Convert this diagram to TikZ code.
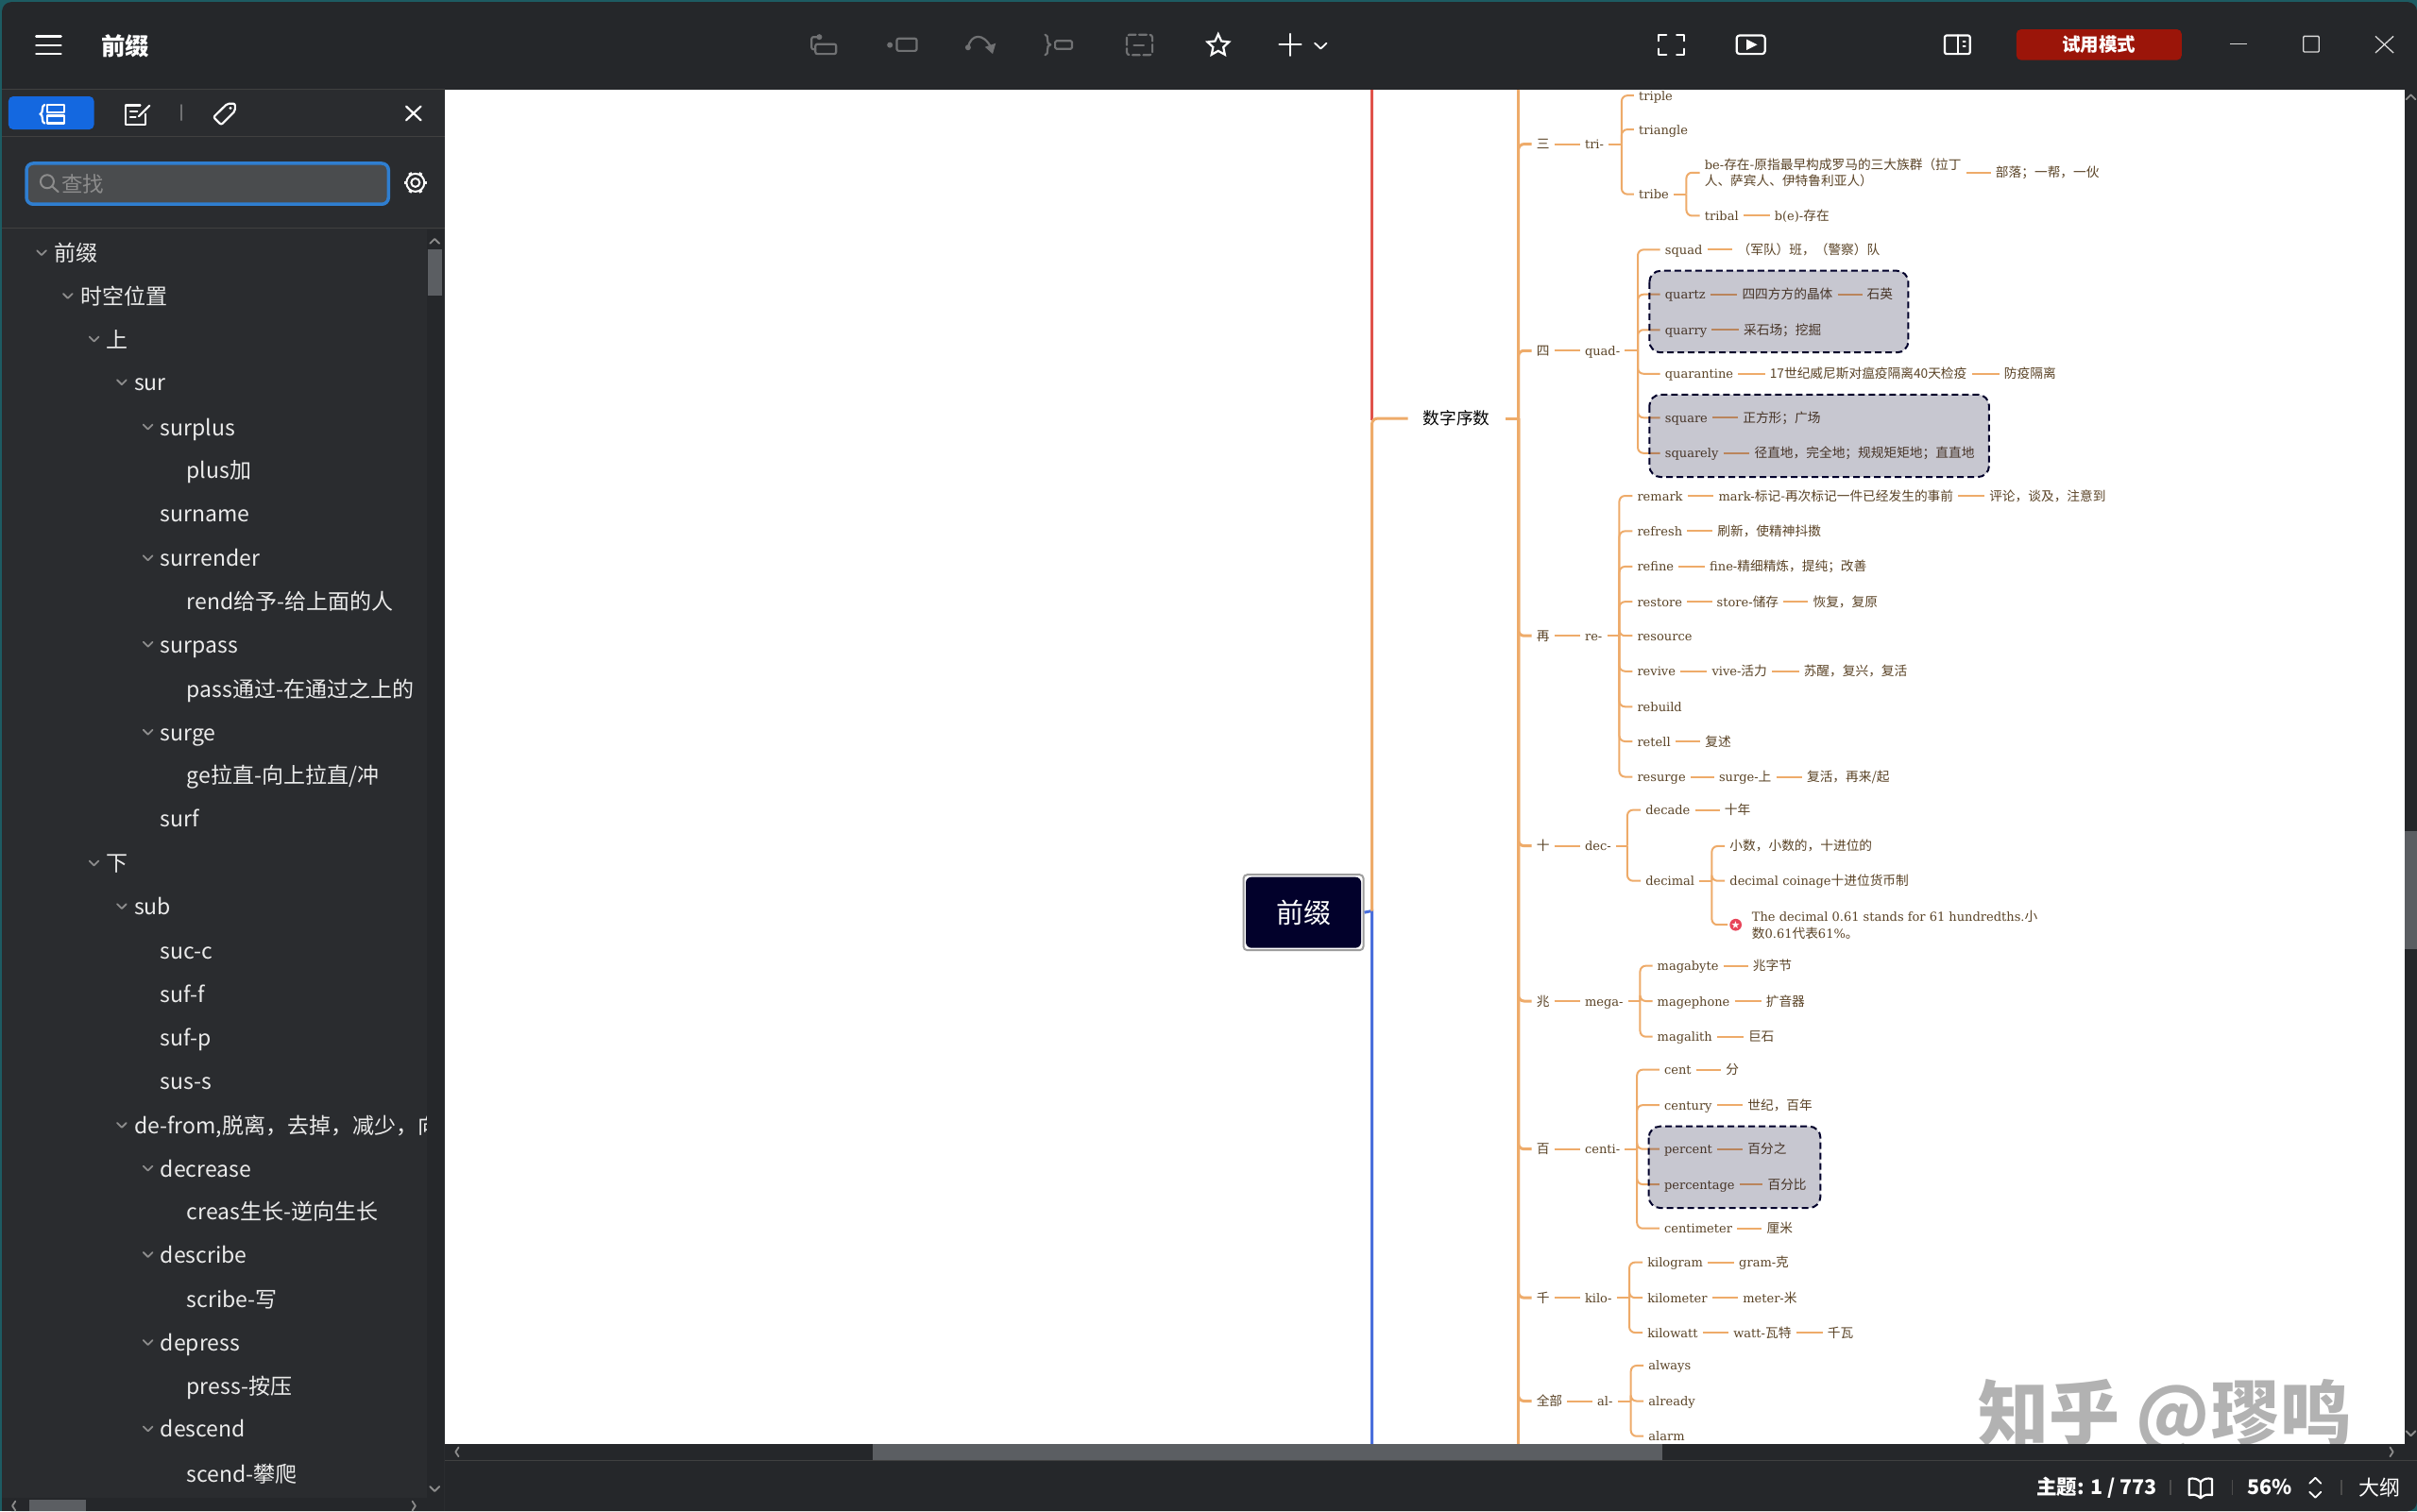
\documentclass[tikz,border=0pt]{standalone}
\usepackage{fontspec}
\usetikzlibrary{shapes.geometric}
\newfontfamily\maplatin{DejaVu Serif}
\newfontfamily\cjkfont{Noto Sans CJK SC}
\newfontfamily\symfont{DejaVu Sans}
\newcommand{\zh}[1]{{\cjkfont\fontsize{13.7}{17.7}\selectfont #1}}
\definecolor{windowdark}{HTML}{25272A}
\definecolor{sidedark}{HTML}{2A2C2F}
\definecolor{edgeteal}{HTML}{1D5C63}
\definecolor{thumbgray}{HTML}{5B5E62}
\definecolor{icongray}{HTML}{707173}
\definecolor{leaforange}{HTML}{EEAB6A}
\definecolor{mapbrown}{HTML}{5A4326}
\definecolor{rootnavy}{HTML}{02012B}
\definecolor{trialred}{HTML}{9B1509}
\definecolor{searchblue}{HTML}{2F7ED0}
\definecolor{tabblue}{HTML}{1468E0}
\definecolor{lineblue}{HTML}{4A6FDC}
\definecolor{linered}{HTML}{E0524A}
\definecolor{starred}{HTML}{E8455A}
\tikzset{
	mapbase/.style={anchor=west,inner xsep=5pt,inner ysep=0pt,text=mapbrown,font=\maplatin\fontsize{13}{17.7}\selectfont},
	mapitem/.style={mapbase,text height=11.5pt,text depth=1.5pt},
	mapnote/.style={mapbase,align=left},
	leafline/.style={draw=leaforange,line width=2pt,rounded corners=6pt},
	numline/.style={draw=leaforange,line width=3pt,rounded corners=6pt},
	groupbox/.style={draw=rootnavy,fill=rootnavy,fill opacity=0.22,line width=2pt,dash pattern=on 7pt off 4pt,rounded corners=12pt},
	sideitem/.style={anchor=west,inner sep=0pt,text=white!92!black,text height=20.5pt,text depth=2.5pt,font=\cjkfont\fontsize{23}{26}\selectfont},
	chev/.style={draw=#1,line width=1.8pt,line cap=round,line join=round},
	chev/.default=white!55!black,
	iconw/.style={draw=white,line width=2.2pt,line cap=round,line join=round},
	icong/.style={draw=icongray,line width=2.2pt,line cap=round,line join=round}
}
\begin{document}
\begin{tikzpicture}[x=1.632pt,y=-1.632pt]
	\useasboundingbox (0,0) rectangle (1568,980.4);
	% window
	\fill[edgeteal] (0,0) rectangle (1568,980.4);
	\fill[windowdark,rounded corners=10pt] (1.3,1.3) rectangle (1568,980.4);
	\fill[sidedark] (1.3,58) rectangle (288.4,980.4);
	\fill[white] (288.4,58) rectangle (1560,937);

	\begin{scope}
		\clip (288.4,58) rectangle (1560,937);
		% watermark
		\node[anchor=west,inner sep=0pt,text=black!30,font=\cjkfont\bfseries\fontsize{75}{75}\selectfont] (wmark) at (1283,919) {知乎 @璆鸣};

		% main lines
		\coordinate (redtop) at (890,58);
		\coordinate (redend) at (890,272.5);
		\coordinate (rootbus) at (890,591);
		\coordinate (bluebot) at (890,937);
		\coordinate (numtop) at (985,58);
		\coordinate (numbus) at (985,271.5);
		\coordinate (numbot) at (985,937);
		\node[draw=black!38,line width=2pt,rounded corners=4pt,minimum width=127pt,minimum height=80pt,inner sep=0pt] (rootframe) at (845.6,592) {};
		\node[fill=rootnavy,text=white,rounded corners=6pt,minimum width=122pt,minimum height=75pt,inner sep=0pt,font=\cjkfont\fontsize{29}{32}\selectfont] (root) at (845.6,592) {前缀};
		\node[inner xsep=16pt,inner ysep=2pt,text=black,font=\cjkfont\fontsize{17.7}{20}\selectfont] (digit) at (945,271.5) {数字序数};
		\draw[draw=linered,line width=3pt] (redtop) -- (redend);
		\draw[draw=lineblue,line width=3pt] (rootframe.east) -- (rootbus) -- (bluebot);
		\draw[numline] (rootbus) |- (digit.west);
		\draw[numline] (digit.east) -- (numbus);
		\draw[numline] (numtop) -- (numbot);

		% tri-
		\node[mapitem] (three) at (993.6,93.5) {\zh{三}};
		\node[mapitem] (tri) at (1025,93.5) {tri-};
		\coordinate (tribus) at (1052,93.5);
		\node[mapitem] (triple) at (1060,62) {triple};
		\node[mapitem] (triangle) at (1060,84) {triangle};
		\node[mapitem] (tribe) at (1060,126) {tribe};
		\coordinate (tribebus) at (1094,126);
		\node[mapnote] (tribeorigin) at (1102.7,112) {be-\zh{存在-原指最早构成罗马的三大族群（拉丁}\\\zh{人、萨宾人、伊特鲁利亚人）}};
		\node[mapitem] (tribemean) at (1291.5,112) {\zh{部落；一帮，一伙}};
		\node[mapitem] (tribal) at (1102.7,140) {tribal};
		\node[mapitem] (tribalroot) at (1148,140) {b(e)-\zh{存在}};
		\draw[numline] (numbus) |- (three.west);
		\draw[leafline] (three.east) -- (tri.west);
		\draw[leafline] (tri.east) -- (tribus);
		\draw[leafline] (tribus) |- (triple.west);
		\draw[leafline] (tribus) |- (triangle.west);
		\draw[leafline] (tribus) |- (tribe.west);
		\draw[leafline] (tribe.east) -- (tribebus);
		\draw[leafline] (tribebus) |- (tribeorigin.west);
		\draw[leafline] (tribebus) |- (tribal.west);
		\draw[leafline] (tribeorigin.east) -- (tribemean.west);
		\draw[leafline] (tribal.east) -- (tribalroot.west);

		% quad-
		\node[mapitem] (four) at (993.6,227.5) {\zh{四}};
		\node[mapitem] (quad) at (1025,227.5) {quad-};
		\coordinate (quadbus) at (1062.5,227.5);
		\node[mapitem] (squad) at (1077,162) {squad};
		\node[mapitem] (squadmean) at (1124,162) {\zh{（军队）班，（警察）队}};
		\node[mapitem] (quartz) at (1077,191) {quartz};
		\node[mapitem] (quartzorigin) at (1127,191) {\zh{四四方方的晶体}};
		\node[mapitem] (quartzmean) at (1208,191) {\zh{石英}};
		\node[mapitem] (quarry) at (1077,214) {quarry};
		\node[mapitem] (quarrymean) at (1128,214) {\zh{采石场；挖掘}};
		\node[mapitem] (quarantine) at (1077,242.5) {quarantine};
		\node[mapitem] (quarantineorigin) at (1145,242.5) {\zh{17世纪威尼斯对瘟疫隔离40天检疫}};
		\node[mapitem] (quarantinemean) at (1297,242.5) {\zh{防疫隔离}};
		\node[mapitem] (square) at (1077,271) {square};
		\node[mapitem] (squaremean) at (1127.5,271) {\zh{正方形；广场}};
		\node[mapitem] (squarely) at (1077,294) {squarely};
		\node[mapitem] (squarelymean) at (1135,294) {\zh{径直地，完全地；规规矩矩地；直直地}};
		\draw[numline] (numbus) |- (four.west);
		\draw[leafline] (four.east) -- (quad.west);
		\draw[leafline] (quad.east) -- (quadbus);
		\draw[leafline] (quadbus) |- (squad.west);
		\draw[leafline] (quadbus) |- (quartz.west);
		\draw[leafline] (quadbus) |- (quarry.west);
		\draw[leafline] (quadbus) |- (quarantine.west);
		\draw[leafline] (quadbus) |- (square.west);
		\draw[leafline] (quadbus) |- (squarely.west);
		\draw[leafline] (squad.east) -- (squadmean.west);
		\draw[leafline] (quartz.east) -- (quartzorigin.west);
		\draw[leafline] (quartzorigin.east) -- (quartzmean.west);
		\draw[leafline] (quarry.east) -- (quarrymean.west);
		\draw[leafline] (quarantine.east) -- (quarantineorigin.west);
		\draw[leafline] (quarantineorigin.east) -- (quarantinemean.west);
		\draw[leafline] (square.east) -- (squaremean.west);
		\draw[leafline] (squarely.east) -- (squarelymean.west);

		% re-
		\node[mapitem] (again) at (993.6,412.5) {\zh{再}};
		\node[mapitem] (re) at (1025,412.5) {re-};
		\coordinate (rebus) at (1050.5,412.5);
		\node[mapitem] (remark) at (1059,321.7) {remark};
		\node[mapitem] (remarkorigin) at (1111.7,321.7) {mark-\zh{标记-再次标记一件已经发生的事前}};
		\node[mapitem] (remarkmean) at (1287.4,321.7) {\zh{评论，谈及，注意到}};
		\node[mapitem] (refresh) at (1059,344.6) {refresh};
		\node[mapitem] (refreshmean) at (1111,344.6) {\zh{刷新，使精神抖擞}};
		\node[mapitem] (refine) at (1059,367.6) {refine};
		\node[mapitem] (refineorigin) at (1106,367.6) {fine-\zh{精细精炼，提纯；改善}};
		\node[mapitem] (restore) at (1059,390.4) {restore};
		\node[mapitem] (restoreorigin) at (1110.6,390.4) {store-\zh{储存}};
		\node[mapitem] (restoremean) at (1173,390.4) {\zh{恢复，复原}};
		\node[mapitem] (resource) at (1059,412.5) {resource};
		\node[mapitem] (revive) at (1059,435.5) {revive};
		\node[mapitem] (reviveorigin) at (1107.4,435.5) {vive-\zh{活力}};
		\node[mapitem] (revivemean) at (1167,435.5) {\zh{苏醒，复兴，复活}};
		\node[mapitem] (rebuild) at (1059,458.5) {rebuild};
		\node[mapitem] (retell) at (1059,481) {retell};
		\node[mapitem] (retellmean) at (1103,481) {\zh{复述}};
		\node[mapitem] (resurge) at (1059,504) {resurge};
		\node[mapitem] (resurgeorigin) at (1112,504) {surge-\zh{上}};
		\node[mapitem] (resurgemean) at (1169,504) {\zh{复活，再来/起}};
		\draw[numline] (numbus) |- (again.west);
		\draw[leafline] (again.east) -- (re.west);
		\draw[leafline] (re.east) -- (rebus);
		\foreach \kid in {remark,refresh,refine,restore,resource,revive,rebuild,retell,resurge}
			\draw[leafline] (rebus) |- (\kid.west);
		\draw[leafline] (remark.east) -- (remarkorigin.west);
		\draw[leafline] (remarkorigin.east) -- (remarkmean.west);
		\draw[leafline] (refresh.east) -- (refreshmean.west);
		\draw[leafline] (refine.east) -- (refineorigin.west);
		\draw[leafline] (restore.east) -- (restoreorigin.west);
		\draw[leafline] (restoreorigin.east) -- (restoremean.west);
		\draw[leafline] (revive.east) -- (reviveorigin.west);
		\draw[leafline] (reviveorigin.east) -- (revivemean.west);
		\draw[leafline] (retell.east) -- (retellmean.west);
		\draw[leafline] (resurge.east) -- (resurgeorigin.west);
		\draw[leafline] (resurgeorigin.east) -- (resurgemean.west);

		% dec-
		\node[mapitem] (ten) at (993.6,548.8) {\zh{十}};
		\node[mapitem] (dec) at (1025,548.8) {dec-};
		\coordinate (decbus) at (1055.7,548.8);
		\node[mapitem] (decade) at (1064.4,525.5) {decade};
		\node[mapitem] (decademean) at (1115.6,525.5) {\zh{十年}};
		\node[mapitem] (decimal) at (1064.4,571.5) {decimal};
		\coordinate (decimalbus) at (1110.5,571.5);
		\node[mapitem] (decimalmean) at (1119,549) {\zh{小数，小数的，十进位的}};
		\node[mapitem] (decimalcoin) at (1119,571.5) {decimal coinage\zh{十进位货币制}};
		\node[circle,fill=starred,text=white,minimum size=12.5pt,inner sep=0pt,font=\symfont\fontsize{11}{11}\selectfont] (decstar) at (1126,600) {★};
		\node[mapnote] (decimalnote) at (1133.4,600) {The decimal 0.61 stands for 61 hundredths.\zh{小}\\\zh{数}0.61\zh{代表}61\%\zh{。}};
		\draw[numline] (numbus) |- (ten.west);
		\draw[leafline] (ten.east) -- (dec.west);
		\draw[leafline] (dec.east) -- (decbus);
		\draw[leafline] (decbus) |- (decade.west);
		\draw[leafline] (decbus) |- (decimal.west);
		\draw[leafline] (decade.east) -- (decademean.west);
		\draw[leafline] (decimal.east) -- (decimalbus);
		\draw[leafline] (decimalbus) |- (decimalmean.west);
		\draw[leafline] (decimalbus) |- (decimalcoin.west);
		\draw[leafline] (decimalbus) |- ([xshift=-2pt]decstar.west);

		% mega-
		\node[mapitem] (million) at (993.6,649.5) {\zh{兆}};
		\node[mapitem] (mega) at (1025,649.5) {mega-};
		\coordinate (megabus) at (1064,649.5);
		\node[mapitem] (magabyte) at (1072,626.6) {magabyte};
		\node[mapitem] (magabytemean) at (1134,626.6) {\zh{兆字节}};
		\node[mapitem] (magephone) at (1072,649.5) {magephone};
		\node[mapitem] (magephonemean) at (1142.5,649.5) {\zh{扩音器}};
		\node[mapitem] (magalith) at (1072,672.6) {magalith};
		\node[mapitem] (magalithmean) at (1131,672.6) {\zh{巨石}};
		\draw[numline] (numbus) |- (million.west);
		\draw[leafline] (million.east) -- (mega.west);
		\draw[leafline] (mega.east) -- (megabus);
		\draw[leafline] (megabus) |- (magabyte.west);
		\draw[leafline] (megabus) |- (magephone.west);
		\draw[leafline] (megabus) |- (magalith.west);
		\draw[leafline] (magabyte.east) -- (magabytemean.west);
		\draw[leafline] (magephone.east) -- (magephonemean.west);
		\draw[leafline] (magalith.east) -- (magalithmean.west);

		% centi-
		\node[mapitem] (hundred) at (993.6,745.5) {\zh{百}};
		\node[mapitem] (centi) at (1025,745.5) {centi-};
		\coordinate (centibus) at (1062,745.5);
		\node[mapitem] (cent) at (1076.5,694) {cent};
		\node[mapitem] (centmean) at (1116.5,694) {\zh{分}};
		\node[mapitem] (century) at (1076.5,717) {century};
		\node[mapitem] (centurymean) at (1130.6,717) {\zh{世纪，百年}};
		\node[mapitem] (percent) at (1076.5,745.5) {percent};
		\node[mapitem] (percentmean) at (1130.6,745.5) {\zh{百分之}};
		\node[mapitem] (percentage) at (1076.5,768.4) {percentage};
		\node[mapitem] (percentagemean) at (1143.6,768.4) {\zh{百分比}};
		\node[mapitem] (centimeter) at (1076.5,797) {centimeter};
		\node[mapitem] (centimetermean) at (1143,797) {\zh{厘米}};
		\draw[numline] (numbus) |- (hundred.west);
		\draw[leafline] (hundred.east) -- (centi.west);
		\draw[leafline] (centi.east) -- (centibus);
		\draw[leafline] (centibus) |- (cent.west);
		\draw[leafline] (centibus) |- (century.west);
		\draw[leafline] (centibus) |- (percent.west);
		\draw[leafline] (centibus) |- (percentage.west);
		\draw[leafline] (centibus) |- (centimeter.west);
		\draw[leafline] (cent.east) -- (centmean.west);
		\draw[leafline] (century.east) -- (centurymean.west);
		\draw[leafline] (percent.east) -- (percentmean.west);
		\draw[leafline] (percentage.east) -- (percentagemean.west);
		\draw[leafline] (centimeter.east) -- (centimetermean.west);

		% kilo-
		\node[mapitem] (thousand) at (993.6,842) {\zh{千}};
		\node[mapitem] (kilo) at (1025,842) {kilo-};
		\coordinate (kilobus) at (1057,842);
		\node[mapitem] (kilogram) at (1065.6,819) {kilogram};
		\node[mapitem] (kilogramorigin) at (1125,819) {gram-\zh{克}};
		\node[mapitem] (kilometer) at (1065.6,842) {kilometer};
		\node[mapitem] (kilometerorigin) at (1127.5,842) {meter-\zh{米}};
		\node[mapitem] (kilowatt) at (1065.6,864.6) {kilowatt};
		\node[mapitem] (kilowattorigin) at (1121.4,864.6) {watt-\zh{瓦特}};
		\node[mapitem] (kilowattmean) at (1182.4,864.6) {\zh{千瓦}};
		\draw[numline] (numbus) |- (thousand.west);
		\draw[leafline] (thousand.east) -- (kilo.west);
		\draw[leafline] (kilo.east) -- (kilobus);
		\draw[leafline] (kilobus) |- (kilogram.west);
		\draw[leafline] (kilobus) |- (kilometer.west);
		\draw[leafline] (kilobus) |- (kilowatt.west);
		\draw[leafline] (kilogram.east) -- (kilogramorigin.west);
		\draw[leafline] (kilometer.east) -- (kilometerorigin.west);
		\draw[leafline] (kilowatt.east) -- (kilowattorigin.west);
		\draw[leafline] (kilowattorigin.east) -- (kilowattmean.west);

		% al-
		\node[mapitem] (whole) at (993.6,909) {\zh{全部}};
		\node[mapitem] (al) at (1033,909) {al-};
		\coordinate (albus) at (1058,909);
		\node[mapitem] (always) at (1066.3,886) {always};
		\node[mapitem] (already) at (1066.3,909) {already};
		\node[mapitem] (alarm) at (1066.3,931.8) {alarm};
		\draw[numline] (numbus) |- (whole.west);
		\draw[leafline] (whole.east) -- (al.west);
		\draw[leafline] (al.east) -- (albus);
		\draw[leafline] (albus) |- (always.west);
		\draw[leafline] (albus) |- (already.west);
		\draw[leafline] (albus) |- (alarm.west);

		% marked groups
		\draw[groupbox] (1070,175.7) rectangle (1238,228.7);
		\draw[groupbox] (1070,256) rectangle (1290.4,309.5);
		\draw[groupbox] (1069.6,730.8) rectangle (1181,783.7);
	\end{scope}

	% sidebar tree
	\begin{scope}
		\clip (1.3,150) rectangle (277,972);
		\foreach \xx/\yy/\txt [count=\i] in {35/164/前缀,52/192/时空位置,69/220/上,87/248/sur,104/277/surplus,121/305/plus加,104/333/surname,104/362/surrender,121/390/rend给予-给上面的人,104/418/surpass,121/447/pass通过-在通过之上的,104/475/surge,121/503/{ge拉直-向上拉直/冲},104/531/surf,69/560/下,87/588/sub,104/617/suc-c,104/645/suf-f,104/673/suf-p,104/701/sus-s,87/730/{de-from,脱离，去掉，减少，向},104/758/decrease,121/786/creas生长-逆向生长,104/814/describe,121/843/scribe-写,104/871/depress,121/899/press-按压,104/927/descend,121/956/scend-攀爬}
			\node[sideitem] (side\i) at (\xx,\yy) {\txt};
		\foreach \xx/\yy in {27/164,44/192,61/220,79/248,96/277,96/362,96/418,96/475,61/560,79/588,79/730,96/758,96/814,96/871,96/927}
			\draw[chev] (\xx,\yy) ++(-3,-1.5) -- ++(3,3) -- ++(3,-3);
	\end{scope}
	% sidebar scrollbars
	\fill[windowdark] (277,149) rectangle (288,972);
	\fill[thumbgray] (277.5,162) rectangle (287,192);
	\draw[chev] (282,156.5) ++(-3,1.5) -- ++(3,-3) -- ++(3,3);
	\draw[chev] (282,966) ++(-3,-1.5) -- ++(3,3) -- ++(3,-3);
	\fill[windowdark] (1.3,972) rectangle (288,980.4);
	\fill[thumbgray] (19,973) rectangle (56,980.4);
	\draw[chev] (10,974) -- (8,977) -- (10,980);
	\draw[chev] (267.5,974) -- (269.5,977) -- (267.5,980);

	% chrome lines
	\draw[draw=white!25!black,line width=1pt] (1.3,57.6) -- (288.4,57.6);
	\draw[draw=white!25!black,line width=1pt] (1.3,88.5) -- (288.4,88.5);
	\draw[draw=white!25!black,line width=1pt] (1.3,148) -- (288.4,148);
	\draw[draw=white!25!black,line width=1pt] (288.4,947.7) -- (1568,947.7);

	% header left
	\foreach \yy in {23.5,29.3,35}
		\draw[iconw,line width=2.6pt] (23.5,\yy) -- (39.5,\yy);
	\node[anchor=west,inner sep=0pt,text=white,font=\cjkfont\bfseries\fontsize{25.5}{28}\selectfont] (title) at (65.5,30) {前缀};

	% sidebar tabs
	\fill[tabblue,rounded corners=5pt] (5.5,62.5) rectangle (61,84);
	\draw[iconw] (30.6,68) rectangle (41.5,73);
	\draw[iconw] (30.6,75) rectangle (41.5,80);
	\draw[iconw] (29,68) .. controls (26.5,68) and (28.5,74) .. (26,74) .. controls (28.5,74) and (26.5,80) .. (29,80);
	\draw[iconw] (91,68.3) -- (81.3,68.3) -- (81.3,81) -- (94.5,81) -- (94.5,74);
	\draw[iconw] (90,75.5) -- (97,68.5);
	\draw[iconw] (84.5,72.5) -- (89,72.5);
	\draw[iconw] (84.5,76) -- (88,76);
	\draw[icong,line width=1.5pt] (117.6,68) -- (117.6,78);
	\draw[iconw,rounded corners=2pt] (138.5,76) -- (147.5,67.2) -- (152.5,67.2) -- (152.5,72) -- (143.5,81) -- cycle;
	\fill[white] (149.5,70.2) circle (1.6pt);
	\draw[iconw] (263.5,69) -- (273,78);
	\draw[iconw] (273,69) -- (263.5,78);

	% search field
	\draw[draw=searchblue,fill=white!17!windowdark,line width=3.5pt,rounded corners=7pt] (17.2,106) rectangle (252,132.5);
	\draw[draw=white!55!black,line width=2pt,line cap=round] (30.6,117.8) circle (7pt);
	\draw[draw=white!55!black,line width=2pt,line cap=round] (33.7,120.8) -- (37.8,124.5);
	\node[anchor=west,inner sep=0pt,text=white!55!black,font=\cjkfont\fontsize{22.5}{25}\selectfont] (search) at (39.8,119.5) {查找};
	\begin{scope}[shift={(269.5,118.5)}]
		\draw[iconw,line width=2pt] (0,0) circle (4.5pt);
		\draw[iconw,line width=2pt] (0,0) circle (9.5pt);
		\foreach \a in {0,60,...,300}
			\draw[iconw,line width=3.4pt,line cap=butt] (\a:9.5pt) -- (\a:12pt);
	\end{scope}

	% toolbar, greyed out
	\draw[icong,rounded corners=2pt] (529,28.6) rectangle (542.4,35);
	\draw[icong,rounded corners=2pt] (531.5,24) -- (526.5,24) -- (526.5,32) -- (529,32);
	\fill[icongray] (531.5,24) circle (3pt);
	\fill[icongray] (577.3,29.2) circle (3pt);
	\draw[icong,rounded corners=2pt] (581.8,25) rectangle (594.7,33);
	\draw[icong] (628,30.6) .. controls (630,22) and (638,21) .. (643,31);
	\fill[icongray] (628,30.8) circle (3pt);
	\fill[icongray] (639,30.5) -- (646,28) -- (644,35) -- cycle;
	\draw[icong] (678,22.5) .. controls (681,22.5) and (678,29) .. (681.5,29) .. controls (678,29) and (681,35.7) .. (678,35.7);
	\draw[icong,rounded corners=1.5pt] (684.5,26.5) rectangle (695.5,31.7);
	\draw[icong,dash pattern=on 8pt off 3.5pt,rounded corners=3pt] (731,22.5) rectangle (747.6,35.7);
	\draw[icong] (735.6,29.2) -- (742,29.2);
	\node[star,star points=5,star point ratio=2.1,draw=white,line width=2.2pt,inner sep=0pt,minimum size=24pt] (favstar) at (790.3,29.5) {};
	\draw[iconw] (829.9,29) -- (844.1,29);
	\draw[iconw] (837,22) -- (837,36);
	\draw[chev=white] (856.8,30) ++(-3.8,-2) -- ++(3.8,3.6) -- ++(3.8,-3.6);

	% toolbar right
	\draw[iconw] (1076,26.5) -- (1076,22.5) -- (1081,22.5);
	\draw[iconw] (1087.7,22.5) -- (1092.7,22.5) -- (1092.7,26.5);
	\draw[iconw] (1092.7,31.7) -- (1092.7,35.7) -- (1087.7,35.7);
	\draw[iconw] (1081,35.7) -- (1076,35.7) -- (1076,31.7);
	\draw[iconw,rounded corners=3pt] (1126.6,23) rectangle (1145,35);
	\fill[white] (1133,25.5) -- (1140,29) -- (1133,32.5) -- cycle;
	\draw[iconw,rounded corners=2pt] (1261.6,23) rectangle (1278,35);
	\draw[iconw] (1270,23) -- (1270,35);
	\draw[iconw,line width=1.6pt] (1273.5,26.8) -- (1275,26.8);
	\draw[iconw,line width=1.6pt] (1273.5,30) -- (1275,30);
	\node[fill=trialred,rounded corners=5pt,minimum width=175pt,minimum height=32.6pt,inner sep=0pt,text=white,font=\cjkfont\bfseries\fontsize{19.5}{22}\selectfont] (trial) at (1361.7,29) {试用模式};
	\draw[draw=white!85!black,line width=1.3pt] (1446.8,28.6) -- (1457.9,28.6);
	\draw[draw=white!85!black,line width=1.3pt,rounded corners=1pt] (1494.3,23.5) rectangle (1504.4,33.7);
	\draw[draw=white!85!black,line width=1.3pt] (1541,23.5) -- (1552.7,34.3);
	\draw[draw=white!85!black,line width=1.3pt] (1552.7,23.5) -- (1541,34.3);

	% map scrollbars
	\fill[windowdark] (288.4,937) rectangle (1560,947.2);
	\fill[thumbgray] (566,937) rectangle (1078.4,947.2);
	\draw[chev] (297.5,939) -- (295.5,942) -- (297.5,945);
	\draw[chev] (1550.5,939) -- (1552.5,942) -- (1550.5,945);
	\fill[windowdark] (1560,58) rectangle (1568,947);
	\fill[thumbgray] (1560,539) rectangle (1568,616);
	\draw[chev] (1564,63) ++(-3,1.5) -- ++(3,-3) -- ++(3,3);
	\draw[chev] (1564,930) ++(-3,-1.5) -- ++(3,3) -- ++(3,-3);

	% status bar
	\node[anchor=west,inner sep=0pt,text=white,font=\cjkfont\bfseries\fontsize{21.5}{25}\selectfont] (topiccount) at (1321,965) {主题: 1 / 773};
	\draw[draw=white!30!black,line width=1.2pt] (1408,960) -- (1408,970);
	\draw[iconw] (1427.6,961.5) .. controls (1425,959) and (1423,959) .. (1420.2,959.5) -- (1420.2,970) .. controls (1423,969.5) and (1425,969.5) .. (1427.6,972) .. controls (1430,969.5) and (1432,969.5) .. (1435,970) -- (1435,959.5) .. controls (1432,959) and (1430,959) .. (1427.6,961.5) -- (1427.6,972);
	\draw[draw=white!30!black,line width=1.2pt] (1448,960) -- (1448,970);
	\node[anchor=west,inner sep=0pt,text=white,font=\cjkfont\bfseries\fontsize{21.5}{25}\selectfont] (zoomlevel) at (1458,965) {56\%};
	\draw[chev=white] (1502,960.6) ++(-3.7,1.8) -- ++(3.7,-3.6) -- ++(3.7,3.6);
	\draw[chev=white] (1502,969.8) ++(-3.7,-1.8) -- ++(3.7,3.6) -- ++(3.7,-3.6);
	\draw[draw=white!30!black,line width=1.2pt] (1519,960) -- (1519,970);
	\node[anchor=west,inner sep=0pt,text=white,font=\cjkfont\fontsize{22}{25}\selectfont] (outline) at (1530,965) {大纲};
\end{tikzpicture}
\end{document}
